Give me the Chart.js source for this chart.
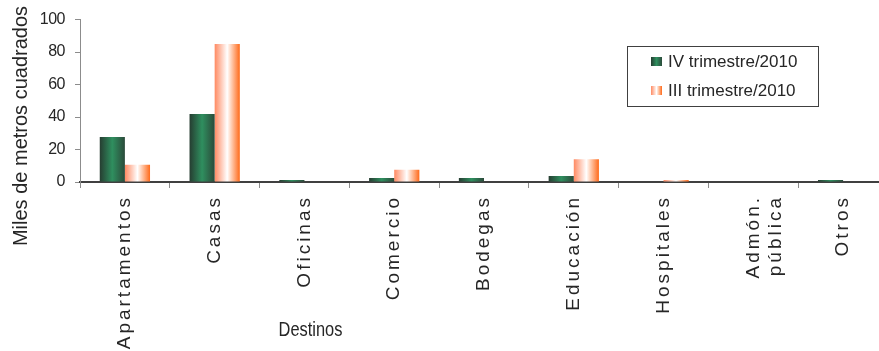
<!DOCTYPE html>
<html>
<head>
<meta charset="utf-8">
<script src="https://cdn.jsdelivr.net/npm/chart.js@4"></script>
<style>
  html, body { margin: 0; padding: 0; background: #fff; overflow: hidden; }
  #wrap { width: 879px; height: 351px; overflow: hidden; }
</style>
</head>
<body>
<div id="wrap"><canvas id="chart" width="890" height="351"></canvas></div>
<script>
// Destinos and the two quarters
const destinos = ['Apartamentos', 'Casas', 'Oficinas', 'Comercio', 'Bodegas', 'Educación', 'Hospitales', ['Admón.', 'pública'], 'Otros'];
const ivTrimestre = [27.7, 41.8, 1.2, 2.5, 2.5, 3.7, 0, 0, 1.2];
const iiiTrimestre = [10.6, 85, 0, 7.5, 0, 14, 1.2, 0, 0];
const yTicks = [0, 20, 40, 60, 80, 100];

const FONT = "'Liberation Sans', Arial, sans-serif";
const TEXT = '#262626';

// horizontal gradients for the bars (dark-light-dark / orange-white-orange)
const greenStops = [[0, '#263d31'], [0.5, '#2f8f5f'], [1, '#2b4a3a']];
const orangeStops = [[0, '#ff8a62'], [0.5, '#ffffff'], [1, '#ff6a1a']];

function makeGrad(ctx, x0, x1, stops) {
  const g = ctx.createLinearGradient(x0, 0, x1, 0);
  stops.forEach(s => g.addColorStop(s[0], s[1]));
  return g;
}

function barFill(stops, solid) {
  return function (c) {
    const chart = c.chart;
    const xs = chart.scales.x;
    if (!chart.chartArea || !xs || c.dataIndex === undefined) return solid;
    const catW = (xs.right - xs.left) / destinos.length;
    const barW = catW * 0.56 / 2;
    const center = xs.getPixelForValue(c.dataIndex);
    const left = center - barW + c.datasetIndex * barW;
    return makeGrad(chart.ctx, left, left + barW, stops);
  };
}

// letter spacing for tick labels
function spaceLabels(scale, sp) {
  if (scale._spaced) return;
  const orig = scale.drawLabels;
  scale.drawLabels = function (area) {
    const c = this.ctx;
    const old = c.letterSpacing;
    c.letterSpacing = sp;
    orig.call(this, area);
    c.letterSpacing = old;
  };
  scale._spaced = true;
}

const extras = {
  id: 'extras',
  beforeDraw(chart) {
    spaceLabels(chart.scales.x, '3px');
    spaceLabels(chart.scales.y, '-0.5px');
  },
  afterDraw(chart) {
    const ctx = chart.ctx;
    ctx.save();
    ctx.fillStyle = TEXT;

    // axis titles
    ctx.font = '20px ' + FONT;
    ctx.textAlign = 'center';
    ctx.textBaseline = 'middle';
    ctx.save();
    ctx.translate(21, 126);
    ctx.rotate(-Math.PI / 2);
    ctx.fillText('Miles de metros cuadrados', 0, 0);
    ctx.restore();
    ctx.save();
    ctx.translate(chart.scales.x.getPixelForValue(2) + 6, 330);
    ctx.scale(0.82, 1);
    ctx.fillText('Destinos', 0, 0);
    ctx.restore();

    // legend box
    const bx = 627, by = 46, bw = 191, bh = 60;
    ctx.strokeStyle = '#404040';
    ctx.lineWidth = 1;
    ctx.strokeRect(bx + 0.5, by + 0.5, bw, bh);
    const rows = [[ivTrimestre, greenStops, 61], [iiiTrimestre, orangeStops, 90]];
    ctx.font = '17px ' + FONT;
    ctx.textAlign = 'left';
    chart.data.datasets.forEach((ds, i) => {
      const y = rows[i][2];
      ctx.fillStyle = makeGrad(ctx, 651, 662, rows[i][1]);
      ctx.fillRect(651, y - 4, 11, 9);
      ctx.fillStyle = TEXT;
      ctx.fillText(ds.label, 668, y + 1);
    });
    ctx.restore();
  }
};

new Chart(document.getElementById('chart'), {
  type: 'bar',
  data: {
    labels: destinos,
    datasets: [
      { label: 'IV trimestre/2010', data: ivTrimestre, backgroundColor: barFill(greenStops, '#2f8f5f'), borderWidth: 0 },
      { label: 'III trimestre/2010', data: iiiTrimestre, backgroundColor: barFill(orangeStops, '#ff8a62'), borderWidth: 0 }
    ]
  },
  options: {
    responsive: false,
    animation: false,
    devicePixelRatio: 1,
    categoryPercentage: 0.56,
    barPercentage: 1,
    layout: { padding: { top: 19, right: 2, left: 0, bottom: 0 } },
    plugins: { legend: { display: false }, tooltip: { enabled: false } },
    scales: {
      x: {
        grid: { offset: true, drawOnChartArea: false, drawTicks: true, tickLength: 6, color: '#8c8c8c' },
        border: { color: '#404040', width: 2 },
        ticks: {
          minRotation: 90, maxRotation: 90, autoSkip: false, padding: 7,
          color: TEXT, font: { family: FONT, size: 19 }
        },
        afterFit: s => { s.height = 351 - 182; }
      },
      y: {
        min: 0, max: 100,
        afterBuildTicks: s => { s.ticks = yTicks.map(v => ({ value: v })); },
        grid: { drawOnChartArea: false, drawTicks: true, tickLength: 5, color: '#8c8c8c' },
        border: { color: '#8c8c8c', width: 1 },
        ticks: { padding: 10, color: TEXT, font: { family: FONT, size: 16 } },
        afterFit: s => { s.width = 80; }
      }
    }
  },
  plugins: [extras]
});
</script>
</body>
</html>
